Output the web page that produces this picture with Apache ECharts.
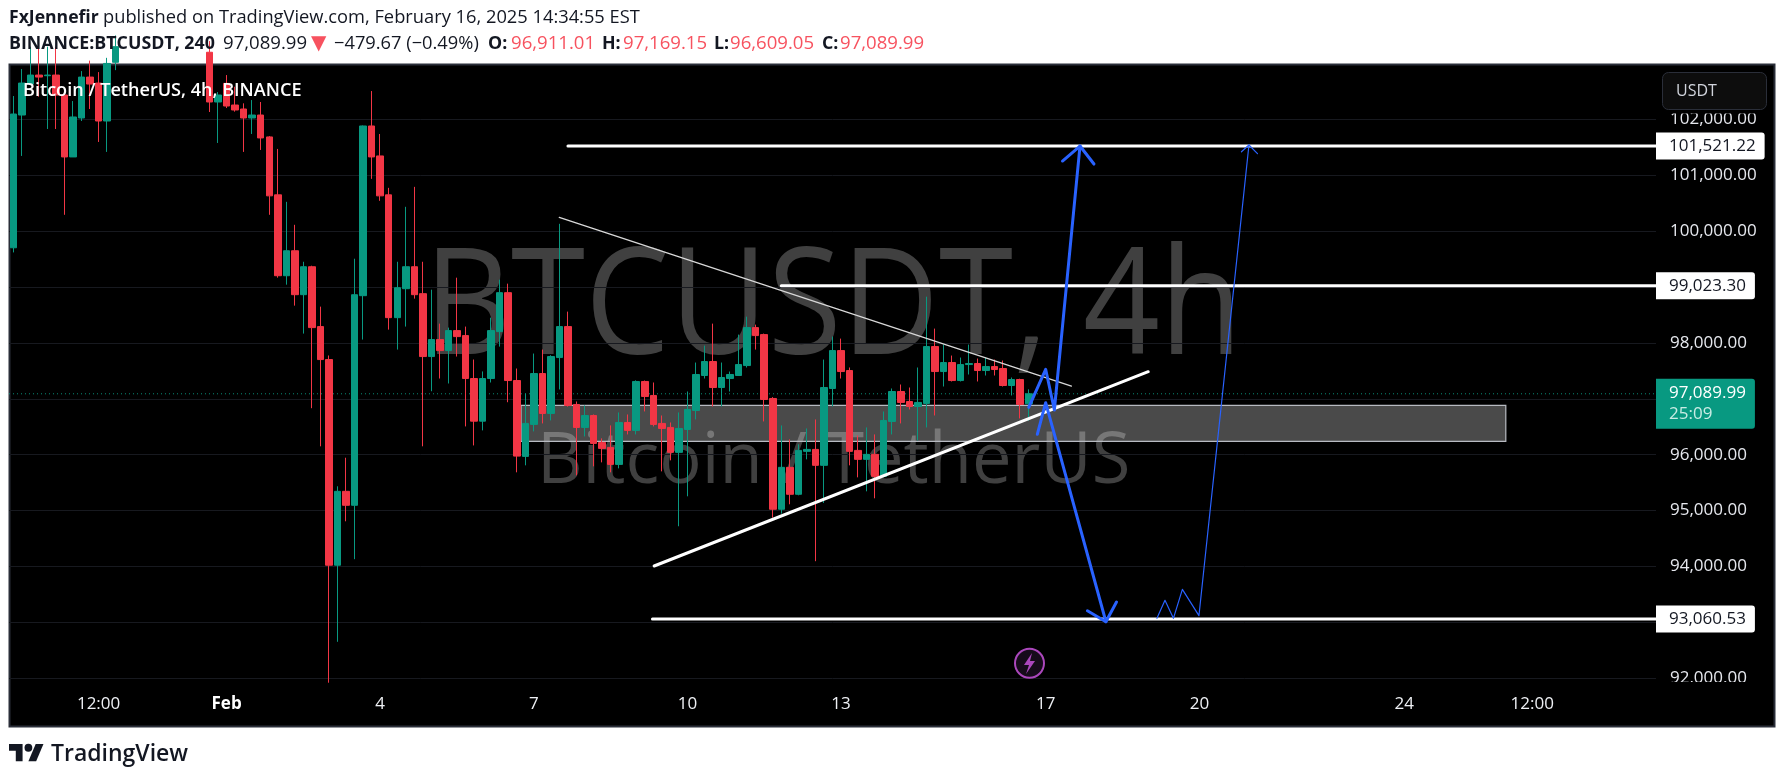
<!DOCTYPE html>
<html><head><meta charset="utf-8">
<style>html,body{margin:0;padding:0;background:#fff;overflow:hidden}#c{width:1785px;height:781px}</style>
<script src="https://cdn.jsdelivr.net/npm/echarts@6/dist/echarts.min.js"></script>
</head><body><div id="c"></div>
<script>
const opens=[99702,102077,102631,102792,102780,102792,102435,101327,102024,102756,
102649,101970,103020,103300,103700,104100,104400,104200,104500,104300,
104000,103800,103500,103200,102310,102643,102256,102185,102024,102077,
101685,100649,99202,99649,98863,99363,98292,97703,94023,95345,
95095,98845,101881,101345,100649,98452,98970,99363,98881,97756,
98060,97863,98220,98131,97363,96600,97363,98202,98899,97327,
95970,96542,97452,96738,97738,98292,96899,96488,96702,96220,
96131,95827,96577,96435,97310,97060,96560,96488,96042,96452,
96792,97417,97667,97202,97363,97417,97595,98274,98149,97006,
95024,95774,95292,96060,96095,95810,97185,97863,97506,96077,
95917,96006,95613,96595,97131,96952,96863,96917,97935,97488,
97649,97327,97613,97631,97506,97577,97542,97238,97345,96911.01];
const closes=[102095,102649,102792,102756,102792,102435,101327,102042,102756,102631,
101970,103000,103300,103700,104100,104400,104200,104500,104300,104000,
103800,103500,103200,102310,102435,102238,102167,102024,102077,101667,
100631,99202,99649,98863,99363,98274,97702,94023,95345,95095,
98862,101881,101327,100631,98452,98988,99363,98863,97756,98060,
97863,98220,98113,97363,96600,97363,98220,98899,97327,95975,
96560,97452,96738,97756,98292,96881,96488,96702,96202,96113,
95827,96577,96435,97310,97042,96542,96470,96042,96470,96810,
97435,97667,97202,97381,97435,97613,98274,98131,96988,95024,
95774,95292,96077,96095,95810,97202,97863,97488,96060,95917,
96006,95613,96613,97131,96935,96863,96935,97935,97488,97649,
97327,97613,97631,97506,97577,97524,97238,97345,96899,97089.99];
const highs=[102417,102899,103300,103300,103300,103300,102460,102327,102863,103050,
102845,103100,103500,103900,104300,104600,104600,104700,104700,104500,
104200,104000,103700,103400,102488,102792,102583,102286,102345,102310,
101700,101470,100524,100113,99452,99381,98649,97775,95435,95946,
99506,101890,102506,101738,100774,99452,100435,100792,99452,98952,
98345,98274,99167,98292,97703,97490,98452,99131,99060,97542,
97095,97810,97881,97780,100131,98560,96952,96881,96720,96292,
96524,96756,96720,97330,97327,97292,96702,96577,96756,97131,
97649,97952,98345,97649,97488,98149,98470,98327,98167,97030,
96524,96274,96185,96470,96631,97702,98113,98077,97560,96345,
96488,96363,96774,97185,97256,97202,97560,98827,98256,97970,
97774,97738,97970,97720,97738,97702,97685,97381,97360,97169.15];
const lows=[99619,101345,102620,102405,101827,101827,100292,101327,101970,102185,
101595,101417,102880,103100,103500,103900,104000,104000,104100,103800,
103600,103300,103050,102131,101577,102202,102137,101417,101738,101452,
100292,99167,99042,98667,98167,96832,96150,91921,92653,94809,
94131,98060,100935,100542,98238,97881,98292,98792,96150,97136,
97363,97274,97756,96506,96166,96435,97292,97934,96939,95685,
95810,96417,96560,96613,97167,96860,95631,96327,95792,95863,
95685,95756,96363,96363,96774,96506,95702,95899,94720,95256,
96631,97363,96863,96863,97131,97417,97560,97881,96595,94875,
94946,95113,95274,95917,94095,95137,96863,97363,95810,95595,
95345,95220,95595,96363,96560,96810,96256,96488,96702,97220,
97310,97310,97435,97310,97417,97417,97220,97060,96649,96609.05];

const slotCount=193;
const tickSlots=[10,25,43,61,79,97,121,139,163,178];
const tickLabels=['12:00','Feb','4','7','10','13','17','20','24','12:00'];
const priceTicks=[92000,93000,94000,95000,96000,97000,98000,99000,100000,101000,102000];

const lastPrice=97089.99, levelHigh=101521.22, levelMid=99023.30, levelLow=93060.53;
const levelHighStart=65.0, levelMidStart=90.0, levelLowStart=74.9;
const risingLine=[[75.1,94009],[133.0,97485]];
const fallingLine=[[63.98,100247],[124.0,97229]];
const zoneCorners=[[59.5,96884],[174.9,96240]];
const upPath=[[119.0,96848],[120.98,97528],[122.0,96800],[125.0,101522]];
const upHead=[[122.95,101254],[125.0,101522],[126.64,101200]];
const downPath=[[120.0,96365],[120.98,96930],[128.04,93012]];
const downHead=[[125.87,93209],[128.04,93012],[129.28,93365]];
const thinPath=[[134.02,93073],[134.96,93395],[135.95,93073],[137.0,93592],[138.94,93120],[144.8,101540]];
const thinHead=[[143.92,101420],[144.8,101540],[145.8,101385]];

const FONT='"Open Sans"';
const fmt=v=>v.toLocaleString('en-US',{minimumFractionDigits:2,maximumFractionDigits:2});
const categories=Array.from({length:slotCount},(_,i)=>String(i));
const candles=opens.map((o,i)=>[o,closes[i],lows[i],highs[i]]);
const XEND=192.5;

function lineS(data,color,width,extra){
  return Object.assign({type:'line',xAxisIndex:1,yAxisIndex:0,data,symbol:'none',showSymbol:false,silent:true,z:5,
    lineStyle:{color,width,cap:'round',join:'round'},animation:false},extra||{});
}
function tag(text,bg,fg){
  return {endLabel:{show:true,formatter:()=>text,position:'right',distance:0,backgroundColor:bg,color:fg,
    fontFamily:FONT,fontSize:17,lineHeight:21,padding:[3,9,3,13],borderRadius:[0,3,3,0]}};
}
const BLUE='#2962ff';
const lastTag=tag(fmt(lastPrice)+'\n{t|25:09}','#089981','#fff');
lastTag.endLabel.offset=[0,10];
lastTag.endLabel.padding=[4,9,4,13];
lastTag.endLabel.rich={t:{color:'#c9ece4',fontFamily:FONT,fontSize:17,lineHeight:21}};
const series=[
  {type:'line',xAxisIndex:1,data:zoneCorners,symbol:'none',showSymbol:false,lineStyle:{width:0,opacity:0},silent:true,z:1,
   markArea:{silent:true,z:1,itemStyle:{color:'rgba(255,255,255,0.29)',borderColor:'#b8bbc2',borderWidth:1.2},
     data:[[{coord:zoneCorners[0]},{coord:zoneCorners[1]}]]}},
  {type:'candlestick',xAxisIndex:0,yAxisIndex:0,data:candles,barWidth:7,z:3,silent:true,
   itemStyle:{color:'#089981',color0:'#f23645',borderColor:'#089981',borderColor0:'#f23645',borderWidth:1}},
  lineS([[-0.5,lastPrice],[XEND,lastPrice]],'#089981',1,Object.assign({z:2},lastTag)),
  lineS([[levelHighStart,levelHigh],[XEND,levelHigh]],'#fff',3,tag(fmt(levelHigh),'#fff','#131722')),
  lineS([[levelMidStart,levelMid],[XEND,levelMid]],'#fff',3,tag(fmt(levelMid),'#fff','#131722')),
  lineS([[levelLowStart,levelLow],[XEND,levelLow]],'#fff',3,tag(fmt(levelLow),'#fff','#131722')),
  lineS(risingLine,'#fff',3),
  lineS(fallingLine,'#d8d8d8',1.3),
  lineS(upPath,BLUE,3),lineS(upHead,BLUE,3),
  lineS(downPath,BLUE,3),lineS(downHead,BLUE,3),
  lineS(thinPath,BLUE,1.2),lineS(thinHead,BLUE,1.2)
];
series[2].lineStyle={color:'#089981',width:1,type:[1,3],cap:'butt',opacity:0.9};

const RED='#f7525f',INK='#131722';
const headerText=(x,y,text,size,weight,fill,family)=>({type:'text',z:30,x,y,silent:true,
  style:{text,fontFamily:family||FONT,fontSize:size,fontWeight:weight,fill,verticalAlign:'middle'}});
const L1=18, L2=44;
const logoScale=0.97, logoX=9, logoY=740;
const logoPt=(p)=>[logoX+p[0]*logoScale,logoY+p[1]*logoScale];
const graphicEls=[
  {type:'rect',z:-5,shape:{x:9.5,y:64.5,width:1765,height:662},style:{fill:'#000',stroke:'#2a2e39',lineWidth:2},silent:true},
  {type:'text',z:-2,x:424,y:312,scaleY:1.1,originY:0,silent:true,style:{text:'BTCUSDT, 4h',fontFamily:FONT,fontSize:134.5,fill:'#404040',verticalAlign:'middle'}},
  {type:'text',z:-2,x:537,y:463,silent:true,style:{text:'Bitcoin / TetherUS',fontFamily:FONT,fontSize:70.5,fill:'#404040',verticalAlign:'middle'}},
  {type:'text',z:30,x:23,y:91,silent:true,style:{text:'Bitcoin / TetherUS, 4h, BINANCE',fontFamily:FONT,fontSize:18.1,fontWeight:600,fill:'#fff',verticalAlign:'middle'}},
  headerText(9,L1,'FxJennefir',17.6,700,INK),
  headerText(103,L1,'published on TradingView.com, February 16, 2025 14:34:55 EST',18.3,400,INK),
  headerText(9,L2,'BINANCE:BTCUSDT, 240',17.8,700,INK),
  headerText(223,L2,'97,089.99',18.6,400,INK),
  headerText(311,L2,'▼',20,400,RED,'"DejaVu Sans"'),
  headerText(334,L2,'−479.67 (−0.49%)',18.3,400,INK),
  headerText(488,L2,'O:',17.8,700,INK),
  headerText(511,L2,'96,911.01',18.6,400,RED),
  headerText(602,L2,'H:',17.8,700,INK),
  headerText(623,L2,'97,169.15',18.6,400,RED),
  headerText(714,L2,'L:',17.8,700,INK),
  headerText(730,L2,'96,609.05',18.6,400,RED),
  headerText(822,L2,'C:',17.8,700,INK),
  headerText(840,L2,'97,089.99',18.6,400,RED),
  {type:'rect',z:20,shape:{x:1658,y:682,width:112,height:10},style:{fill:'#000'},silent:true},
  {type:'rect',z:20,shape:{x:1658,y:108,width:112,height:5.5},style:{fill:'#000'},silent:true},
  {type:'rect',z:21,shape:{x:1662.5,y:72.5,width:104,height:37,r:6},style:{fill:'#0d0d0d',stroke:'#2a2e39',lineWidth:1},silent:true},
  {type:'text',z:22,x:1676,y:91,silent:true,style:{text:'USDT',fontFamily:FONT,fontSize:16,fill:'#d1d4dc',verticalAlign:'middle'}},
  {type:'circle',z:10,shape:{cx:1029.5,cy:663.3,r:14.5},style:{fill:'#160b1a',stroke:'#ab47bc',lineWidth:2},silent:true},
  {type:'polygon',z:11,shape:{points:[[1032,653],[1024,665],[1029,665],[1026,674],[1035,661],[1030,661]]},style:{fill:'#ab47bc'},silent:true},
  {type:'polygon',z:30,shape:{points:[[0,4],[14,4],[14,22],[7,22],[7,11],[0,11]].map(logoPt)},style:{fill:INK},silent:true},
  {type:'polygon',z:30,shape:{points:[[20,22],[27.53,4],[35.53,4],[28,22]].map(logoPt)},style:{fill:INK},silent:true},
  {type:'circle',z:30,shape:{cx:logoX+20*logoScale,cy:logoY+8*logoScale,r:3.9},style:{fill:INK},silent:true},
  {type:'text',z:30,x:51,y:754,silent:true,style:{text:'TradingView',fontFamily:FONT,fontSize:23,fontWeight:600,fill:INK,verticalAlign:'middle'}}
];

const option={
  animation:false,backgroundColor:'#fff',
  grid:{left:9,top:66,width:1647,height:618,containLabel:false},
  xAxis:[
    {type:'category',data:categories,axisLine:{show:false},axisTick:{show:false},splitLine:{show:false},
     axisLabel:{color:'#eef0f4',fontFamily:FONT,fontSize:17,margin:12,hideOverlap:false,
       interval:(i)=>tickSlots.includes(i),
       formatter:(v,i)=>{const s=tickSlots.indexOf(+v);const t=tickLabels[s];return t==='Feb'?'{b|Feb}':t;},
       rich:{b:{color:'#fff',fontFamily:FONT,fontSize:17,fontWeight:700}}}},
    {type:'value',min:-0.5,max:XEND,show:false,gridIndex:0}
  ],
  yAxis:{type:'value',position:'right',min:91898,max:102954,scale:true,
    axisLine:{show:false},
    axisTick:{show:false,customValues:priceTicks},
    splitLine:{show:true,lineStyle:{color:'#17191f',width:1}},
    axisLabel:{customValues:priceTicks,color:'#e6e8ee',fontFamily:FONT,fontSize:17,margin:14,align:'left',
      formatter:v=>fmt(v)}},
  series,
  graphic:{elements:graphicEls}
};
const chart=echarts.init(document.getElementById('c'),null,{renderer:'canvas'});
chart.setOption(option);
</script></body></html>
